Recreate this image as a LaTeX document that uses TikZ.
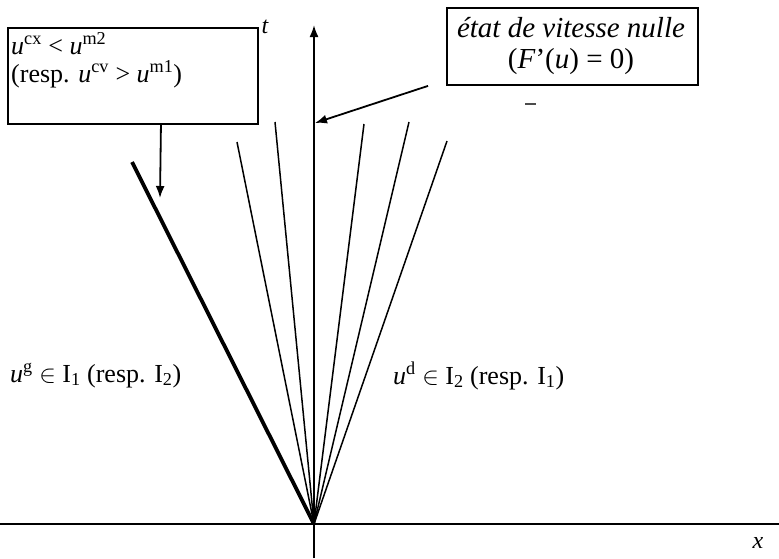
\documentclass[tikz,border=0pt]{standalone}
\usepackage{fontspec}
\setmainfont{Liberation Serif}
\usetikzlibrary{arrows.meta}
\begin{document}
\begin{tikzpicture}[x=1pt,y=-1pt,
  axisline/.style={line width=1.9pt},
  fanline/.style={line width=1.5pt},
  thickline/.style={line width=3.8pt},
  boxstyle/.style={draw,line width=1.9pt,inner sep=0pt},
  pointer/.style={line width=1.8pt,-{Latex[length=12pt,width=9pt]}},
  lbl/.style={inner sep=0pt,font=\fontsize{26}{28}\selectfont}
]
\useasboundingbox (0,0) rectangle (779,558);
% origin
\coordinate (O) at (314,524);
% axes
\coordinate (xl) at (0,524);
\coordinate (xr) at (779,524);
\coordinate (yb) at (314,558);
\coordinate (yt) at (314,25);
\draw[axisline] (xl) -- (xr);
\draw[axisline,-{Latex[length=12pt,width=9pt]}] (yb) -- (yt);
\node[lbl,font=\fontsize{24}{27}\selectfont\itshape] (tlab) at (265,27) {t};
\node[lbl,font=\fontsize{24}{27}\selectfont\itshape] (xlab) at (758,543) {x};
% fan
\coordinate (f1) at (237,142);
\coordinate (f2) at (275,122);
\coordinate (f3) at (364,124);
\coordinate (f4) at (409,122);
\coordinate (f5) at (447,141);
\coordinate (th) at (132,162);
\foreach \f in {f1,f2,f3,f4,f5} \draw[fanline] (O) -- (\f);
\draw[thickline] (O) -- (th);
% left box
\node[boxstyle,minimum width=250pt,minimum height=96pt,anchor=north west] (lbox) at (7,27) {};
\node[lbl,anchor=base west,align=left] (ltext) at (11,82)
  {\textit{u}\textsuperscript{cx} < \textit{u}\textsuperscript{m2}\\(resp. \textit{u}\textsuperscript{cv} > \textit{u}\textsuperscript{m1})};
\coordinate (la) at (160,198);
\draw[pointer] ([xshift=28pt]lbox.south) -- (la);
% right box
\node[boxstyle,minimum width=251pt,minimum height=77pt,anchor=north west] (rbox) at (446,7) {};
\node[lbl,align=center,anchor=base,font=\fontsize{29}{31}\selectfont] (rtext) at (571,68)
  {\textit{état de vitesse nulle}\\(\textit{F}'(\textit{u}) = 0)};
\coordinate (ra) at (315,123);
\draw[pointer] ([xshift=-18pt]rbox.south west) -- (ra);
% stray mark
\coordinate (m1) at (525,104);
\coordinate (m2) at (536,104);
\draw[line width=1.4pt,black!70] (m1) -- (m2);
% region labels
\node[lbl,anchor=base west] (gl) at (10,382)
  {\textit{u}\textsuperscript{g} $\in$ I\textsubscript{1} (resp. I\textsubscript{2})};
\node[lbl,anchor=base west] (dl) at (393,384)
  {\textit{u}\textsuperscript{d} $\in$ I\textsubscript{2} (resp. I\textsubscript{1})};
\end{tikzpicture}
\end{document}
